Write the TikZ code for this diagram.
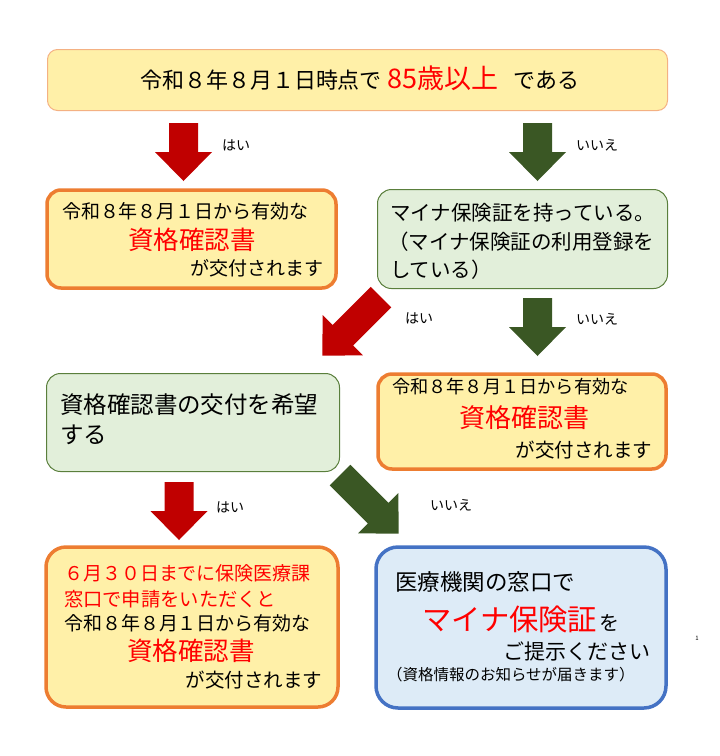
\documentclass[tikz,border=0pt]{standalone}
\usepackage{fontspec}
\setmainfont{Noto Sans CJK JP}
\definecolor{yfill}{HTML}{FFF0A8}
\definecolor{topline}{HTML}{F4B183}
\definecolor{orangeB}{HTML}{ED7D31}
\definecolor{gfill}{HTML}{E2EFDA}
\definecolor{gline}{HTML}{5A7F3C}
\definecolor{bfill}{HTML}{DDEBF7}
\definecolor{bline}{HTML}{4472C4}
\definecolor{arrred}{HTML}{C00000}
\definecolor{arrgreen}{HTML}{3A5724}
\definecolor{txtred}{HTML}{FF0000}
\newcommand{\myfs}[1]{\fontsize{#1}{#1}\selectfont}
\begin{document}
\begin{tikzpicture}[x=1pt,y=1pt,
  box/.style={rectangle, rounded corners=14pt, inner sep=0pt, outer sep=0pt},
  topbox/.style={box, rounded corners=10pt, fill=yfill, draw=topline, line width=1pt},
  ybox/.style={box, fill=yfill, draw=orangeB, line width=3.5pt},
  gbox/.style={box, fill=gfill, draw=gline, line width=1pt},
  bbox/.style={box, rounded corners=22pt, fill=bfill, draw=bline, line width=3.5pt},
  txt/.style={inner sep=0pt, outer sep=0pt, text=black},
  lbl/.style={txt, anchor=west, font=\myfs{14}},
  pics/barrow/.style 2 args={code={
    \fill[#2] (-14.5,0) -- (14.5,0) -- (14.5,{-#1+29}) -- (28.5,{-#1+29}) -- (0,{-#1})
      -- (-28.5,{-#1+29}) -- (-14.5,{-#1+29}) -- cycle;}}
]
\useasboundingbox (0,0) rectangle (720,-756);

% boxes
\node[topbox, minimum width=620pt, minimum height=61pt] (q1) at (357.5,-80) {};
\node[ybox, minimum width=289pt, minimum height=98pt] (r1) at (191.5,-239) {};
\node[gbox, minimum width=290pt, minimum height=99pt] (q2) at (522.5,-239) {};
\node[gbox, minimum width=293pt, minimum height=98pt] (q3) at (193,-422.5) {};
\node[ybox, minimum width=288pt, minimum height=95pt] (r2) at (522,-421.5) {};
\node[ybox, rounded corners=20pt, minimum width=292pt, minimum height=160pt] (r3) at (192,-627) {};
\node[bbox, minimum width=290pt, minimum height=161pt] (r4) at (521,-627.5) {};

% top text
\node[txt, anchor=west, font=\myfs{22}] (t1) at (140,-78)
  {令和８年８月１日時点で\hspace{6pt}{\color{txtred}\myfs{27}85歳以上}\hspace{15pt}である};

% arrows
\pic (a1) at (183.5,-123) {barrow={58}{arrred}};
\pic (a2) at (537.5,-123) {barrow={58}{arrgreen}};
\pic[rotate=-45] (a3) at (381,-297) {barrow={83}{arrred}};
\pic (a4) at (537.5,-298) {barrow={58}{arrgreen}};
\pic (a5) at (179,-482) {barrow={58}{arrred}};
\pic[rotate=45] (a6) at (340,-475) {barrow={83}{arrgreen}};

\node[lbl] (l1) at (222,-145) {はい};
\node[lbl] (l2) at (576,-145) {いいえ};
\node[lbl] (l3) at (405,-318) {はい};
\node[lbl] (l4) at (576,-319) {いいえ};
\node[lbl] (l5) at (216,-507) {はい};
\node[lbl] (l6) at (430,-505) {いいえ};

% r1 text
\node[txt, anchor=west, font=\myfs{19}] (r1a) at (62,-211) {令和８年８月１日から有効な};
\node[txt, text=txtred, font=\myfs{25.5}] (r1b) at (192,-240) {資格確認書};
\node[txt, anchor=east, font=\myfs{19}] (r1c) at (323,-268) {が交付されます};

% q2 text
\node[txt, anchor=west, font=\myfs{20.5}] (q2a) at (390,-213) {マイナ保険証を持っている。};
\node[txt, anchor=west, font=\myfs{20.5}] (q2b) at (388,-242) {（マイナ保険証の利用登録を};
\node[txt, anchor=west, font=\myfs{20.5}] (q2c) at (390,-270) {している）};

% q3 text
\node[txt, anchor=west, font=\myfs{23.5}] (q3a) at (60,-405) {資格確認書の交付を希望};
\node[txt, anchor=west, font=\myfs{23.5}] (q3b) at (60,-435) {する};

% r2 text
\node[txt, anchor=west, font=\myfs{18.2}] (r2a) at (392,-387) {令和８年８月１日から有効な};
\node[txt, text=txtred, font=\myfs{26}] (r2b) at (524,-418) {資格確認書};
\node[txt, anchor=east, font=\myfs{19.5}] (r2c) at (652,-450) {が交付されます};

% r3 text
\node[txt, anchor=west, text=txtred, font=\myfs{19}] (r3a) at (64,-573) {６月３０日までに保険医療課};
\node[txt, anchor=west, text=txtred, font=\myfs{19.3}] (r3b) at (64,-599) {窓口で申請をいただくと};
\node[txt, anchor=west, font=\myfs{19}] (r3c) at (64,-623) {令和８年８月１日から有効な};
\node[txt, text=txtred, font=\myfs{25.5}] (r3d) at (191,-651) {資格確認書};
\node[txt, anchor=east, font=\myfs{19.5}] (r3e) at (322,-680) {が交付されます};

% r4 text
\node[txt, anchor=west, font=\myfs{22.5}] (r4a) at (395,-582) {医療機関の窓口で};
\node[txt, anchor=west, font=\myfs{29.3}] (r4b) at (422,-619)
  {{\color{txtred}マイナ保険証}\hspace{2pt}{\myfs{20}を}};
\node[txt, anchor=east, font=\myfs{21}] (r4c) at (650,-651) {ご提示ください};
\node[txt, anchor=west, font=\myfs{15.5}] (r4d) at (387,-675) {（資格情報のお知らせが届きます）};

\node[txt, font=\myfs{6}] (pg) at (697,-638) {1};
\end{tikzpicture}
\end{document}
